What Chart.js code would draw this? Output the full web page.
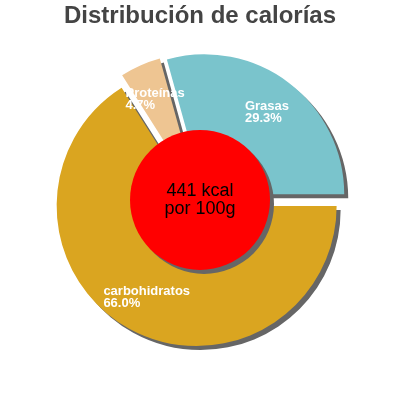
<!DOCTYPE html>
<html lang="es">
<head>
    <meta charset="UTF-8">
    <title>Distribución de calorías</title>
    <script src="https://cdn.jsdelivr.net/npm/chart.js"></script>
    <style>
        body { margin: 0; background: #fff; }
        #wrap { width: 400px; height: 400px; }
    </style>
</head>
<body>
    <div id="wrap"><canvas id="calChart"></canvas></div>

    <script>
        // Datos del gráfico
        const etiquetas = ['carbohidratos', 'Proteínas', 'Grasas'];
        const porcentajes = [66.0, 4.7, 29.3];
        const colores = ['#daa520', '#eec592', '#7ac4cc'];
        const textoCentro = ['441 kcal', 'por 100g'];

        const separacion = 7; // px que se separa cada porción del centro

        // Sombra gris para las porciones y el círculo central
        function ponerSombra(ctx) {
            ctx.shadowColor = '#666666';
            ctx.shadowOffsetX = 4;
            ctx.shadowOffsetY = 4;
            ctx.shadowBlur = 0;
        }

        // Dibuja las porciones separadas del centro, con sombra
        const sombraPlugin = {
            id: 'sombra',
            beforeDatasetDraw(chart, args) {
                const ctx = chart.ctx;
                ctx.save();
                ponerSombra(ctx);
                args.meta.data.forEach(arc => {
                    const mid = (arc.startAngle + arc.endAngle) / 2;
                    ctx.save();
                    ctx.translate(Math.cos(mid) * separacion, Math.sin(mid) * separacion);
                    arc.draw(ctx, chart.chartArea);
                    ctx.restore();
                });
                ctx.restore();
                return false;
            }
        };

        // Círculo rojo central y etiquetas de cada porción
        const centroPlugin = {
            id: 'centro',
            afterDatasetsDraw(chart) {
                const ctx = chart.ctx;
                const arcs = chart.getDatasetMeta(0).data;
                const cx = arcs[0].x, cy = arcs[0].y;
                const r = arcs[0].outerRadius;

                // etiquetas en blanco
                ctx.save();
                ctx.fillStyle = '#ffffff';
                ctx.font = 'bold 13px "Liberation Sans", Arial, sans-serif';
                ctx.textAlign = 'left';
                ctx.textBaseline = 'alphabetic';
                arcs.forEach((arc, i) => {
                    const mid = (arc.startAngle + arc.endAngle) / 2;
                    const px = cx + Math.cos(mid) * r * 0.79;
                    const py = cy + Math.sin(mid) * r * 0.79;
                    const l1 = etiquetas[i];
                    const l2 = porcentajes[i].toFixed(1) + '%';
                    const w = Math.max(ctx.measureText(l1).width, ctx.measureText(l2).width);
                    ctx.fillText(l1, px - w / 2, py - 2);
                    ctx.fillText(l2, px - w / 2, py + 10);
                });
                ctx.restore();

                // círculo rojo
                ctx.save();
                ponerSombra(ctx);
                ctx.beginPath();
                ctx.arc(cx, cy, r * 0.5, 0, Math.PI * 2);
                ctx.fillStyle = '#ff0000';
                ctx.fill();
                ctx.restore();

                ctx.save();
                ctx.fillStyle = '#000000';
                ctx.font = '18px "Liberation Sans", Arial, sans-serif';
                ctx.textAlign = 'center';
                ctx.textBaseline = 'alphabetic';
                ctx.fillText(textoCentro[0], cx, cy - 4);
                ctx.fillText(textoCentro[1], cx, cy + 14);
                ctx.restore();
            }
        };

        new Chart(document.getElementById('calChart'), {
            type: 'doughnut',
            data: {
                labels: etiquetas,
                datasets: [{
                    data: porcentajes,
                    backgroundColor: colores,
                    borderWidth: 0
                }]
            },
            options: {
                responsive: true,
                maintainAspectRatio: false,
                animation: false,
                cutout: 0,
                radius: 140,
                rotation: 90,
                layout: { padding: { bottom: 35 } },
                events: [],
                plugins: {
                    legend: { display: false },
                    tooltip: { enabled: false },
                    title: {
                        display: true,
                        text: 'Distribución de calorías',
                        color: '#444444',
                        font: { family: '"Liberation Sans", Arial, sans-serif', size: 24, weight: 'bold', lineHeight: 1.2 },
                        padding: { top: 2, bottom: 4 }
                    }
                }
            },
            plugins: [sombraPlugin, centroPlugin]
        });
    </script>
</body>
</html>
